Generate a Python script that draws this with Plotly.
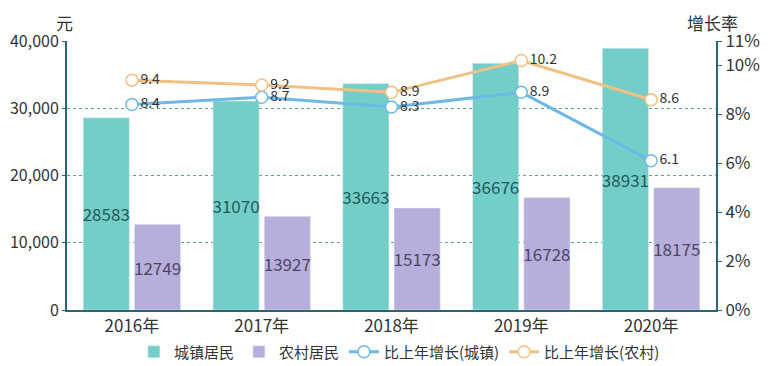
import plotly.graph_objects as go

years = ["2016年", "2017年", "2018年", "2019年", "2020年"]
urban = [28583, 31070, 33663, 36676, 38931]
rural = [12749, 13927, 15173, 16728, 18175]
urban_growth = [8.4, 8.7, 8.3, 8.9, 6.1]
rural_growth = [9.4, 9.2, 8.9, 10.2, 8.6]
right_ticks = [0, 2, 4, 6, 8, 10, 11]
left_ticks = [0, 10000, 20000, 30000, 40000]

FONT = "Noto Sans CJK SC, Noto Sans, sans-serif"
AXIS = "#2b6570"

fig = go.Figure()
fig.add_trace(go.Bar(
    x=years, y=urban, name="城镇居民", marker_color="#74cec8",
    text=[str(v) for v in urban], textposition="inside", insidetextanchor="middle",
    textfont=dict(size=17, color="#1f5a5c"), textangle=0, constraintext="none",
))
fig.add_trace(go.Bar(
    x=years, y=rural, name="农村居民", marker_color="#b8aedc",
    text=[str(v) for v in rural], textposition="inside", insidetextanchor="middle",
    textfont=dict(size=17, color="#4a4866"), textangle=0, constraintext="none",
))
fig.add_trace(go.Scatter(
    x=years, y=urban_growth, name="比上年增长(城镇)", yaxis="y2",
    mode="lines+markers+text", line=dict(color="#6cb9e6", width=3),
    marker=dict(size=12, color="white", line=dict(color="#6cb9e6", width=1.5)),
    text=[str(v) for v in urban_growth], textposition="middle right",
    textfont=dict(size=14, color="#333333"),
))
fig.add_trace(go.Scatter(
    x=years, y=rural_growth, name="比上年增长(农村)", yaxis="y2",
    mode="lines+markers+text", line=dict(color="#f0c184", width=3),
    marker=dict(size=12, color="white", line=dict(color="#f0c184", width=1.5)),
    text=[str(v) for v in rural_growth], textposition="middle right",
    textfont=dict(size=14, color="#333333"),
))

fig.update_layout(
    width=760, height=358,
    margin=dict(l=59, r=52, t=33, b=56, autoexpand=False),
    paper_bgcolor="white", plot_bgcolor="white",
    font=dict(family=FONT, size=16, color="#333333"),
    barmode="group", bargap=0.21, bargroupgap=0.1,
    showlegend=True,
    legend=dict(orientation="h", x=0.515, xanchor="center", xref="container",
                y=0.039, yanchor="middle", yref="container",
                font=dict(size=15, color="#333333"), itemwidth=30, tracegroupgap=0),
    xaxis=dict(type="category", showline=True, linecolor=AXIS, linewidth=2,
               ticks="", tickfont=dict(size=17), showgrid=False, automargin=False),
    yaxis=dict(range=[0, 40000], tickvals=left_ticks,
               ticktext=[f"{v:,}" for v in left_ticks], tickfont=dict(size=16),
               showline=True, linecolor=AXIS, linewidth=2,
               ticks="outside", ticklen=3, tickcolor=AXIS,
               showgrid=True, gridcolor="#5f9ea0", griddash="dot", gridwidth=1,
               zeroline=False, automargin=False),
    yaxis2=dict(range=[0, 11], overlaying="y", side="right", tickvals=right_ticks,
                ticktext=[f"{v}%" for v in right_ticks], tickfont=dict(size=17),
                showline=True, linecolor=AXIS, linewidth=2,
                ticks="outside", ticklen=4, tickcolor=AXIS,
                showgrid=False, zeroline=False, automargin=False),
    annotations=[
        dict(text="元", x=0, y=1, xref="paper", yref="paper", xanchor="right",
             yanchor="bottom", yshift=4, xshift=8, showarrow=False, font=dict(size=17)),
        dict(text="增长率", x=1, y=1, xref="paper", yref="paper", xanchor="center",
             yanchor="bottom", yshift=4, xshift=-4, showarrow=False, font=dict(size=17)),
    ],
)

fig.write_html("out.html")
